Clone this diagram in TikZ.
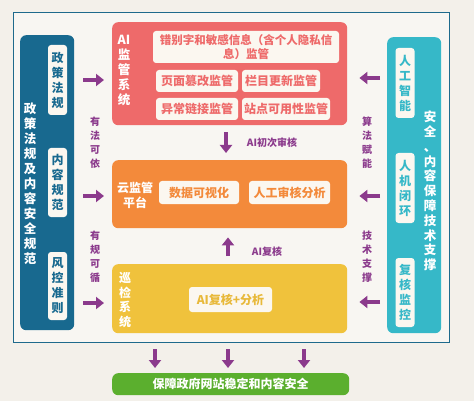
\documentclass[tikz,border=0pt]{standalone}
\usepackage{fontspec}
\setmainfont{Noto Sans CJK SC}
\usepackage{tikz}
\usetikzlibrary{positioning,calc,arrows.meta}
\definecolor{paper}{HTML}{F3F0EA}
\definecolor{card}{HTML}{FBF7F0}
\definecolor{framec}{HTML}{1E6A8C}
\definecolor{policyc}{HTML}{18698F}
\definecolor{redc}{HTML}{EE6A6A}
\definecolor{orangec}{HTML}{F38A3B}
\definecolor{yellowc}{HTML}{F0C23C}
\definecolor{goldc}{HTML}{E8B93A}
\definecolor{tealc}{HTML}{36B8C8}
\definecolor{greenc}{HTML}{5BAF2E}
\definecolor{purplec}{HTML}{8B3A8C}

\begin{document}
\begin{tikzpicture}[x=1pt,y=-1pt,
	panel/.style={rounded corners=6pt,anchor=north west,inner sep=0pt},
	tag/.style={fill=card,rounded corners=3pt,inner sep=0pt,font=\fontsize{12}{15}\selectfont\bfseries,align=center},
	vtag/.style={tag,minimum width=19pt},
	htag/.style={tag,minimum height=22pt},
	vlabel/.style={text=white,font=\fontsize{12.5}{15}\selectfont\bfseries,align=center,inner sep=0pt},
	note/.style={text=purplec,font=\fontsize{10}{14}\selectfont\bfseries,align=center,inner sep=0pt},
	fat/.style={draw=purplec,line width=4pt,-{Triangle[width=12pt,length=8pt]}}]
				\useasboundingbox (0,0) rectangle (474,401);
				\fill[paper] (0,0) rectangle (474,401);
				\node[draw=framec,line width=1.3pt,fill=paper!60!white,anchor=north west,minimum width=436pt,minimum height=330pt] (frame) at (13,12) {};
				
				\node[panel,fill=policyc,minimum width=54pt,minimum height=295pt] (policy) at (20,35) {};
				\node[vlabel] at (30,183.5) {政\\策\\法\\规\\及\\内\\容\\安\\全\\规\\范};
				\node[vtag,text=policyc,minimum height=70pt] (law) at (57.5,80) {政\\策\\法\\规};
				\node[vtag,text=policyc,minimum height=69pt] (rule) at (57.5,182.5) {内\\容\\规\\范};
				\node[vtag,text=policyc,minimum height=68pt] (risk) at (57.5,286) {风\\控\\准\\则};
				
				\node[panel,fill=redc,minimum width=235pt,minimum height=103pt] (monitor) at (112,22) {};
				\node[vlabel] at (124,71) {AI\\监\\管\\系\\统};
				\node[tag,text=redc,minimum width=186pt,minimum height=32pt,font=\fontsize{11.5}{14.5}\selectfont\bfseries] (typo) at (246,47) {错别字和敏感信息（含个人隐私信\\息）监管};
				\node[htag,text=redc,minimum width=82pt] (tamper) at (197,81) {页面篡改监管};
				\node[htag,text=redc,minimum width=78pt] (column) at (281,81) {栏目更新监管};
				\node[htag,text=redc,minimum width=82pt] (link) at (197,109) {异常链接监管};
				\node[htag,text=redc,minimum width=88pt] (site) at (286,109) {站点可用性监管};
				
				\node[panel,fill=orangec,minimum width=235pt,minimum height=68pt] (cloud) at (112,160) {};
				\node[vlabel,font=\fontsize{12}{15}\selectfont\bfseries] at (135,195) {云监管\\平台};
				\node[htag,text=orangec,minimum width=80pt,minimum height=23pt] (visual) at (199,192.5) {数据可视化};
				\node[htag,text=orangec,minimum width=81pt,minimum height=23pt] (review) at (289.5,192.5) {人工审核分析};
				
				\node[panel,fill=yellowc,minimum width=235pt,minimum height=69pt] (patrol) at (112,264) {};
				\node[vlabel,font=\fontsize{12}{14.5}\selectfont\bfseries] at (125,300) {巡\\检\\系\\统};
				\node[htag,text=goldc,minimum width=83pt,minimum height=25pt] (recheck) at (230.5,299.5) {AI复核+分析};
				
				\node[panel,fill=tealc,minimum width=54pt,minimum height=296pt] (support) at (387,37) {};
				\node[vlabel,font=\fontsize{12.5}{14.8}\selectfont\bfseries] at (430,191) {安\\全\\、\\内\\容\\保\\障\\技\\术\\支\\撑};
				\node[vtag,text=tealc,minimum height=70pt] (smart) at (405,83) {人\\工\\智\\能};
				\node[vtag,text=tealc,minimum height=70pt] (loop) at (405,188) {人\\机\\闭\\环};
				\node[vtag,text=tealc,minimum height=69pt] (watch) at (405,292.5) {复\\核\\监\\控};
				
				\node[panel,fill=greenc,minimum width=237pt,minimum height=22pt] (goal) at (112,373) {};
				\node[text=white,font=\fontsize{12}{14}\selectfont\bfseries,inner sep=0pt] at (goal.center) {保障政府网站稳定和内容安全};
				
				\node[note] at (95,143) {有\\法\\可\\依};
				\node[note] at (95,257) {有\\规\\可\\循};
				\node[note] at (367,143) {算\\法\\赋\\能};
				\node[note] at (367,257) {技\\术\\支\\撑};
				\node[note] at (272,143) {AI初次审核};
				\node[note] at (267,252) {AI复核};
				
				\draw[fat,shorten <=9pt,shorten >=8pt] (policy.east |- 0,80) -- (monitor.west |- 0,80);
				\draw[fat,shorten <=9pt,shorten >=8pt] (policy.east |- 0,196) -- (cloud.west |- 0,196);
				\draw[fat,shorten <=9pt,shorten >=8pt] (policy.east |- 0,303) -- (patrol.west |- 0,303);
				
				\draw[fat,shorten <=7pt,shorten >=12pt] (support.west |- 0,78) -- (monitor.east |- 0,78);
				\draw[fat,shorten <=7pt,shorten >=12pt] (support.west |- 0,196) -- (cloud.east |- 0,196);
				\draw[fat,shorten <=7pt,shorten >=12pt] (support.west |- 0,302) -- (patrol.east |- 0,302);
				
				\draw[fat,shorten <=7pt,shorten >=7pt] (226,0 |- monitor.south) -- (226,0 |- cloud.north);
				\draw[fat,shorten <=8pt,shorten >=9pt] (228,0 |- patrol.north) -- (228,0 |- cloud.south);
				
				\foreach \x in {155,228,304}
				\draw[fat,shorten <=6pt,shorten >=5pt] (\x,0 |- frame.south) -- (\x,0 |- goal.north);
			\end{tikzpicture}
\end{document}
